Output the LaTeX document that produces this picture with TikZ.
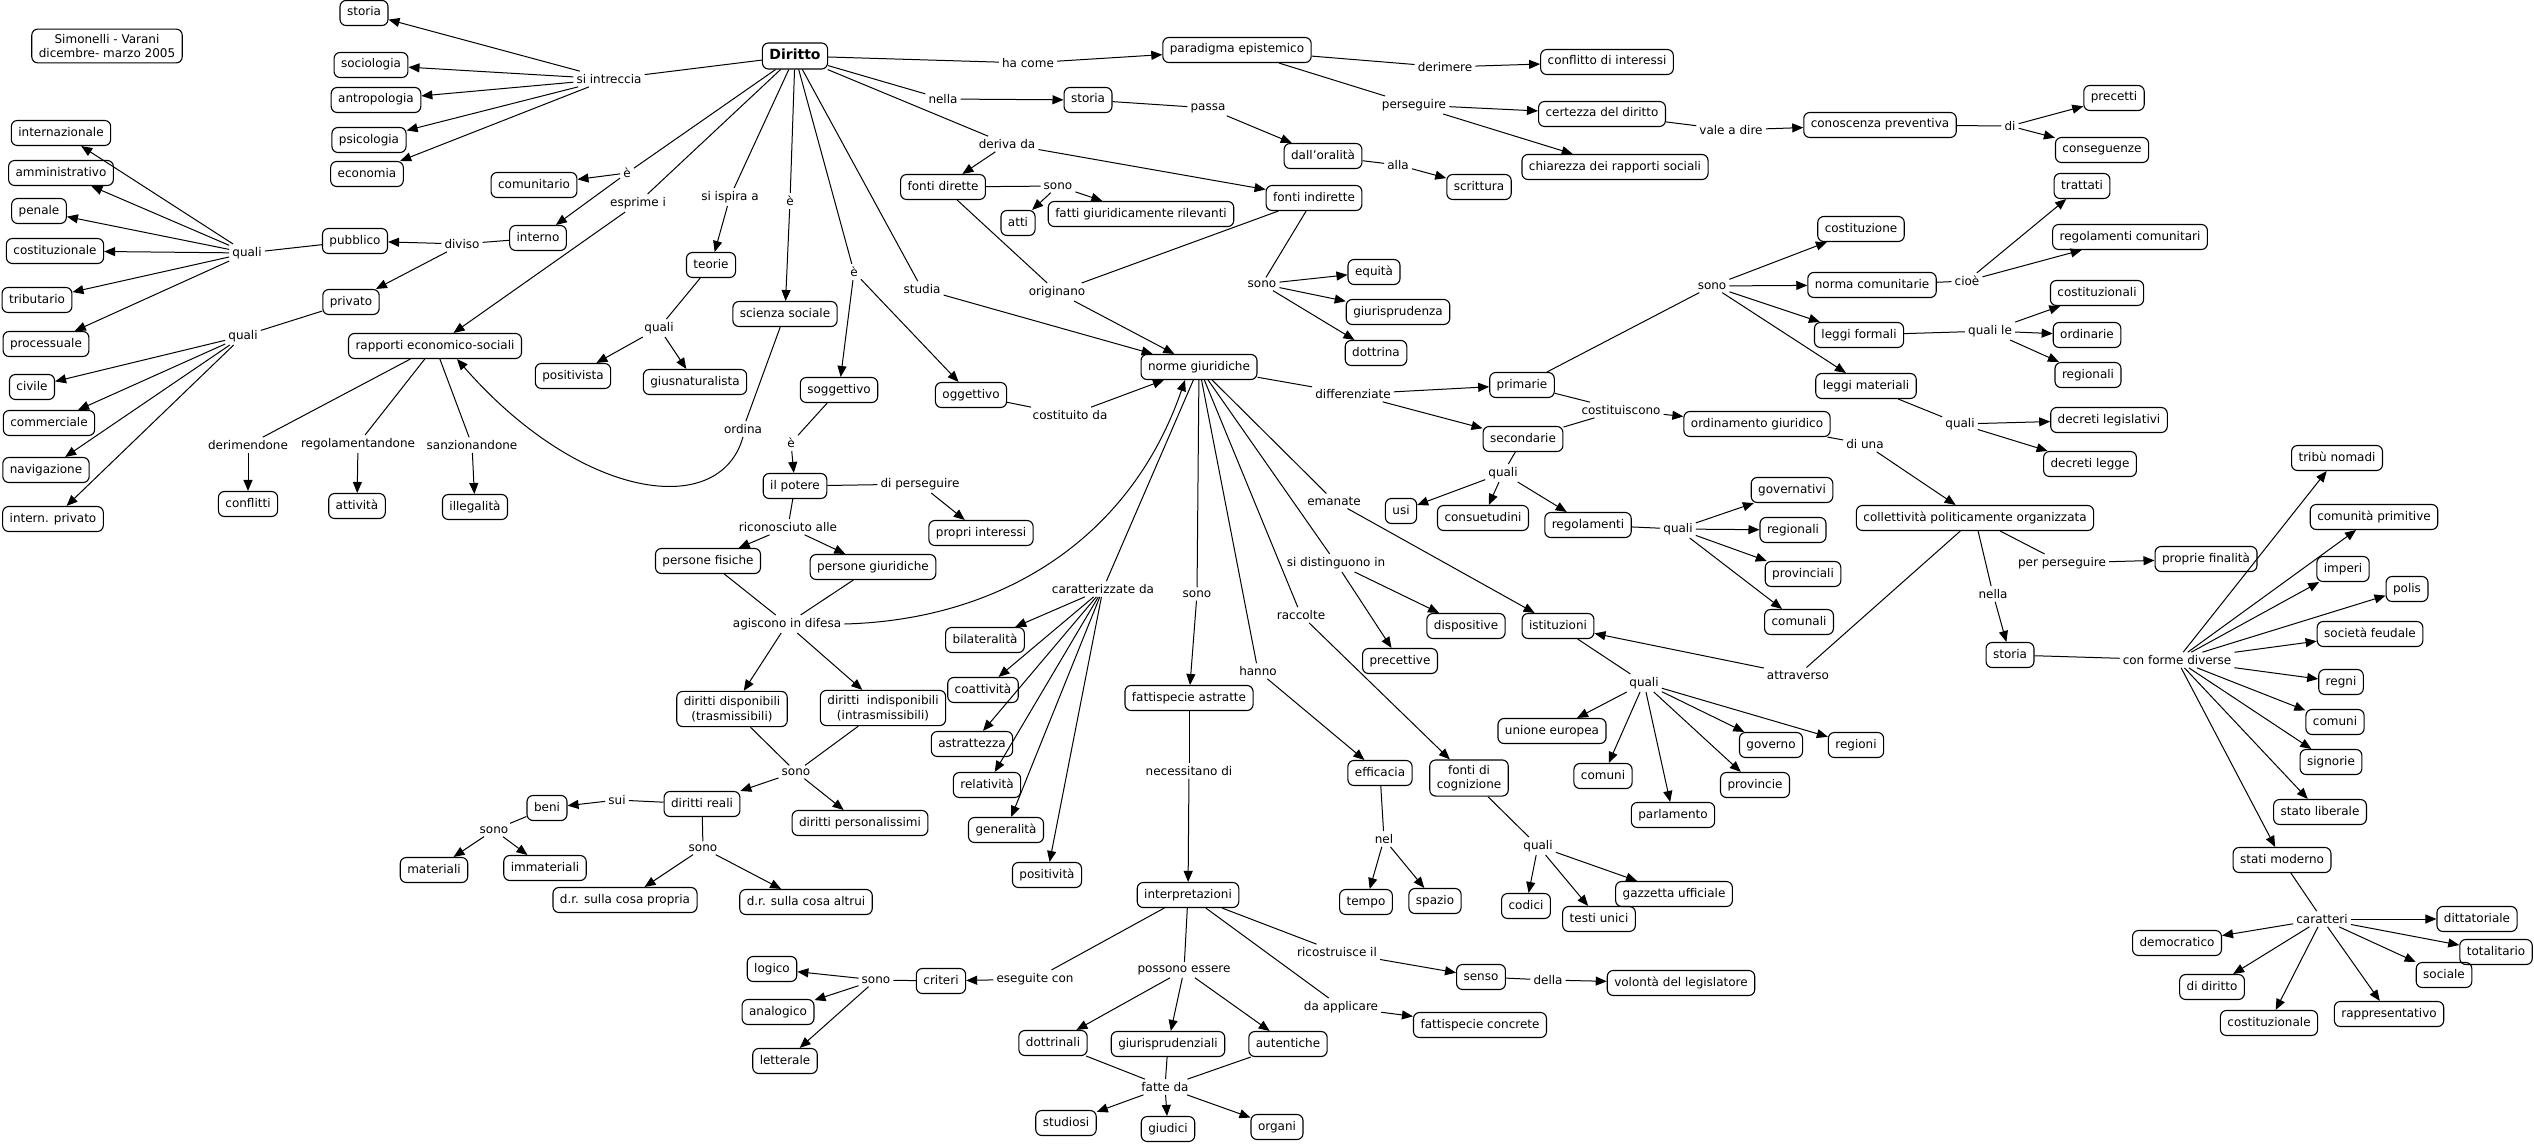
\documentclass[tikz,border=0pt]{standalone}
\usepackage{fontspec}
\setmainfont{DejaVu Sans}
\usetikzlibrary{arrows.meta}
\newcommand\cmlink[3]{%
  \foreach \cmS in {#1}{\draw[ln] (\cmS) -- (#2);}%
  \foreach \cmT in {#3}{\draw[ar] (#2) -- (\cmT);}%
}
\begin{document}
\begin{tikzpicture}[x=1pt,y=-1pt,
  cpt/.style={draw, rounded corners=6pt, line width=1.1pt, inner xsep=7pt, inner ysep=0pt,
    font=\fontsize{12}{14.5}\selectfont, text height=9pt, text depth=3pt, minimum height=25pt},
  cpttwo/.style={draw, rounded corners=6pt, line width=1.1pt, inner xsep=7pt, inner ysep=5pt,
    font=\fontsize{12}{14.5}\selectfont, align=center},
  lp/.style={inner sep=3pt, font=\fontsize{12}{14.5}\selectfont},
  ln/.style={line width=1pt},
  ar/.style={line width=1pt, -{Triangle[length=11pt,width=9pt]}}
]
\useasboundingbox (0,0) rectangle (2534,1145);
\fill[white] (0,0) rectangle (2534,1145);

% ---------- concepts ----------
\node[cpttwo] (title) at (107,46) {Simonelli - Varani\\dicembre- marzo 2005};
\node[cpt] (storiaA) at (364,13) {storia};
\node[cpt] (sociologia) at (371,65) {sociologia};
\node[cpt] (antropologia) at (376,100) {antropologia};
\node[cpt] (psicologia) at (369,140) {psicologia};
\node[cpt] (economia) at (367,174) {economia};
\node[cpt] (internazionale) at (61,133) {internazionale};
\node[cpt] (amministrativo) at (61,173) {amministrativo};
\node[cpt] (penale) at (39,211) {penale};
\node[cpt] (costituzionaleA) at (55,251) {costituzionale};
\node[cpt] (tributario) at (37,300) {tributario};
\node[cpt] (processuale) at (46,344) {processuale};
\node[cpt] (pubblico) at (355,241) {pubblico};
\node[cpt] (interno) at (538,238) {interno};
\node[cpt] (comunitario) at (534,185) {comunitario};
\node[cpt] (privato) at (351,302) {privato};
\node[cpt] (rapporti) at (435,346) {rapporti economico-sociali};
\node[cpt] (positivista) at (573,376) {positivista};
\node[cpt] (civile) at (32,387) {civile};
\node[cpt] (commerciale) at (49,423) {commerciale};
\node[cpt] (navigazione) at (46,470) {navigazione};
\node[cpt] (internpriv) at (53,519) {intern. privato};
\node[cpt] (conflitti) at (248,504) {conflitti};
\node[cpt] (attivita) at (357,506) {attività};
\node[cpt] (illegalita) at (475,507) {illegalità};
\node[cpt, font=\fontsize{14}{16}\selectfont\bfseries, text height=10pt, text depth=3pt, minimum height=26pt] (diritto) at (795,56) {Diritto};
\node[cpt] (paradigma) at (1237,50) {paradigma epistemico};
\node[cpt] (storiaB) at (1088,100) {storia};
\node[cpt] (fontidir) at (943,187) {fonti dirette};
\node[cpt] (atti) at (1018,223) {atti};
\node[cpt] (fatti) at (1141,214) {fatti giuridicamente rilevanti};
\node[cpt] (fontiind) at (1314,198) {fonti indirette};
\node[cpt] (norme) at (1199,367) {norme giuridiche};
\node[cpt] (teorie) at (711,265) {teorie};
\node[cpt] (scienza) at (785,314) {scienza sociale};
\node[cpt] (giusnat) at (695,382) {giusnaturalista};
\node[cpt] (soggettivo) at (839,390) {soggettivo};
\node[cpt] (oggettivo) at (971,395) {oggettivo};
\node[cpt] (conflitto) at (1607,62) {conflitto di interessi};
\node[cpt] (certezza) at (1602,114) {certezza del diritto};
\node[cpt] (chiarezza) at (1615,167) {chiarezza dei rapporti sociali};
\node[cpt] (conoscenza) at (1880,125) {conoscenza preventiva};
\node[cpt] (oralita) at (1323,156) {dall'oralità};
\node[cpt] (scrittura) at (1479,187) {scrittura};
\node[cpt] (equita) at (1374,272) {equità};
\node[cpt] (giurisprudenza) at (1398,312) {giurisprudenza};
\node[cpt] (dottrina) at (1376,353) {dottrina};
\node[cpt] (costituzione) at (1861,229) {costituzione};
\node[cpt] (normacom) at (1872,285) {norma comunitarie};
\node[cpt] (leggiform) at (1859,335) {leggi formali};
\node[cpt] (leggimat) at (1866,386) {leggi materiali};
\node[cpt] (primarie) at (1522,385) {primarie};
\node[cpt] (precetti) at (2114,98) {precetti};
\node[cpt] (conseguenze) at (2102,150) {conseguenze};
\node[cpt] (trattati) at (2082,186) {trattati};
\node[cpt] (regcom) at (2130,237) {regolamenti comunitari};
\node[cpt] (costituzionali) at (2097,293) {costituzionali};
\node[cpt] (ordinarie) at (2087,335) {ordinarie};
\node[cpt] (regionaliL) at (2088,375) {regionali};
\node[cpt] (secondarie) at (1523,439) {secondarie};
\node[cpt] (ordinamento) at (1757,424) {ordinamento giuridico};
\node[cpt] (usi) at (1401,511) {usi};
\node[cpt] (consuetudini) at (1483,518) {consuetudini};
\node[cpt] (regolamenti) at (1588,525) {regolamenti};
\node[cpt] (governativi) at (1792,490) {governativi};
\node[cpt] (regionaliR) at (1793,530) {regionali};
\node[cpt] (provinciali) at (1803,574) {provinciali};
\node[cpt] (comunali) at (1799,622) {comunali};
\node[cpt] (dispositive) at (1466,626) {dispositive};
\node[cpt] (precettive) at (1400,661) {precettive};
\node[cpt] (istituzioni) at (1558,626) {istituzioni};
\node[cpt] (collettivita) at (1975,518) {collettività politicamente organizzata};
\node[cpt] (unione) at (1552,731) {unione europea};
\node[cpt] (governo) at (1771,745) {governo};
\node[cpt] (regioni) at (1856,745) {regioni};
\node[cpt] (comuniI) at (1603,776) {comuni};
\node[cpt] (provincie) at (1755,785) {provincie};
\node[cpt] (parlamento) at (1673,815) {parlamento};
\node[cpt] (declegis) at (2109,420) {decreti legislativi};
\node[cpt] (declegge) at (2090,464) {decreti legge};
\node[cpt] (tribu) at (2337,458) {tribù nomadi};
\node[cpt] (comprim) at (2374,517) {comunità primitive};
\node[cpt] (proprie) at (2206,559) {proprie finalità};
\node[cpt] (imperi) at (2343,569) {imperi};
\node[cpt] (polis) at (2407,589) {polis};
\node[cpt] (feudale) at (2370,634) {società feudale};
\node[cpt] (storiaC) at (2010,655) {storia};
\node[cpt] (regni) at (2341,682) {regni};
\node[cpt] (comuniR) at (2335,722) {comuni};
\node[cpt] (signorie) at (2331,762) {signorie};
\node[cpt] (liberale) at (2320,812) {stato liberale};
\node[cpt] (moderno) at (2282,860) {stati moderno};
\node[cpt] (dittatoriale) at (2477,919) {dittatoriale};
\node[cpt] (democratico) at (2177,943) {democratico};
\node[cpt] (totalitario) at (2496,952) {totalitario};
\node[cpt] (sociale) at (2444,975) {sociale};
\node[cpt] (didiritto) at (2212,987) {di diritto};
\node[cpt] (costituzionaleR) at (2269,1023) {costituzionale};
\node[cpt] (rappresentativo) at (2389,1014) {rappresentativo};
\node[cpt] (potere) at (795,486) {il potere};
\node[cpt] (propri) at (981,533) {propri interessi};
\node[cpt] (fisiche) at (708,561) {persone fisiche};
\node[cpt] (giuridiche) at (873,567) {persone giuridiche};
\node[cpt] (bilateralita) at (985,640) {bilateralità};
\node[cpt] (coattivita) at (983,690) {coattività};
\node[cpttwo] (disponibili) at (732,709) {diritti disponibili\\(trasmissibili)};
\node[cpttwo] (indisponibili) at (883,708) {diritti \ indisponibili\\(intrasmissibili)};
\node[cpt] (fattispecie) at (1189,698) {fattispecie astratte};
\node[cpt] (astrattezza) at (972,744) {astrattezza};
\node[cpt] (reali) at (702,804) {diritti reali};
\node[cpt] (personalissimi) at (860,823) {diritti personalissimi};
\node[cpt] (propria) at (625,900) {d.r. sulla cosa propria};
\node[cpt] (altrui) at (806,902) {d.r. sulla cosa altrui};
\node[cpt] (relativita) at (987,785) {relatività};
\node[cpt] (generalita) at (1006,830) {generalità};
\node[cpt] (positivita) at (1047,875) {positività};
\node[cpt] (interpretazioni) at (1188,895) {interpretazioni};
\node[cpt] (logico) at (772,969) {logico};
\node[cpt] (analogico) at (778,1012) {analogico};
\node[cpt] (letterale) at (785,1061) {letterale};
\node[cpt] (criteri) at (941,981) {criteri};
\node[cpt] (dottrinali) at (1053,1043) {dottrinali};
\node[cpt] (giurispr) at (1168,1044) {giurisprudenziali};
\node[cpt] (autentiche) at (1288,1044) {autentiche};
\node[cpt] (studiosi) at (1066,1123) {studiosi};
\node[cpt] (giudici) at (1168,1129) {giudici};
\node[cpt] (organi) at (1277,1127) {organi};
\node[cpt] (beni) at (547,808) {beni};
\node[cpt] (materiali) at (434,870) {materiali};
\node[cpt] (immateriali) at (545,868) {immateriali};
\node[cpt] (efficacia) at (1380,773) {efficacia};
\node[cpttwo] (cognizione) at (1469,778) {fonti di\\cognizione};
\node[cpt] (tempo) at (1366,902) {tempo};
\node[cpt] (spazio) at (1435,901) {spazio};
\node[cpt] (codici) at (1526,906) {codici};
\node[cpt] (testi) at (1599,919) {testi unici};
\node[cpt] (gazzetta) at (1674,894) {gazzetta ufficiale};
\node[cpt] (senso) at (1481,977) {senso};
\node[cpt] (volonta) at (1681,983) {volontà del legislatore};
\node[cpt] (concrete) at (1480,1025) {fattispecie concrete};

% ---------- linking phrases ----------
\node[lp] (lIntreccia) at (609,79) {si intreccia};
\node[lp] (lQualiPub) at (247,253) {quali};
\node[lp] (lDiviso) at (462,244) {diviso};
\node[lp] (lE1) at (627,173) {è};
\node[lp] (lEsprime) at (638,203) {esprime i};
\node[lp] (lQualiPriv) at (243,336) {quali};
\node[lp] (lDerim) at (248,445) {derimendone};
\node[lp] (lRegol) at (358,444) {regolamentandone};
\node[lp] (lSanz) at (472,445) {sanzionandone};
\node[lp] (lHaCome) at (1028,63) {ha come};
\node[lp] (lNella1) at (943,99) {nella};
\node[lp] (lPassa) at (1208,108) {passa};
\node[lp] (lDeriva) at (1007,144) {deriva da};
\node[lp] (lSono1) at (1058,186) {sono};
\node[lp] (lOriginano) at (1057,292) {originano};
\node[lp] (lStudia) at (922,289) {studia};
\node[lp] (lE3) at (854,272) {è};
\node[lp] (lE2) at (790,201) {è};
\node[lp] (lIspira) at (730,197) {si ispira a};
\node[lp] (lQualiTeorie) at (659,328) {quali};
\node[lp] (lDerimere) at (1445,67) {derimere};
\node[lp] (lPerseguire) at (1414,105) {perseguire};
\node[lp] (lVale) at (1731,130) {vale a dire};
\node[lp] (lDi) at (2010,126) {di};
\node[lp] (lAlla) at (1398,165) {alla};
\node[lp] (lSono2) at (1262,284) {sono};
\node[lp] (lSono3) at (1712,286) {sono};
\node[lp] (lCioe) at (1967,281) {cioè};
\node[lp] (lQualiLe) at (1990,331) {quali le};
\node[lp] (lDifferenziate) at (1353,394) {differenziate};
\node[lp] (lCostituiscono) at (1621,410) {costituiscono};
\node[lp] (lDiUna) at (1865,444) {di una};
\node[lp] (lQualiSec) at (1503,473) {quali};
\node[lp] (lQualiReg) at (1678,529) {quali};
\node[lp] (lEmanate) at (1334,501) {emanate};
\node[lp] (lDistinguono) at (1336,563) {si distinguono in};
\node[lp] (lRaccolte) at (1301,615) {raccolte};
\node[lp] (lQualiIst) at (1644,683) {quali};
\node[lp] (lAttraverso) at (1798,675) {attraverso};
\node[lp] (lQualiMat) at (1960,424) {quali};
\node[lp] (lPerPers) at (2062,563) {per perseguire};
\node[lp] (lNella2) at (1993,594) {nella};
\node[lp] (lForme) at (2177,660) {con forme diverse};
\node[lp] (lCaratteri) at (2322,919) {caratteri};
\node[lp] (lOrdina) at (743,429) {ordina};
\node[lp] (lE4) at (791,443) {è};
\node[lp] (lDiPers) at (920,484) {di perseguire};
\node[lp] (lCostituito) at (1070,415) {costituito da};
\node[lp] (lRiconosciuto) at (788,527) {riconosciuto alle};
\node[lp] (lAgiscono) at (787,624) {agiscono in difesa};
\node[lp] (lCaratterizzate) at (1103,589) {caratterizzate da};
\node[lp] (lSono4) at (1197,594) {sono};
\node[lp] (lHanno) at (1258,671) {hanno};
\node[lp] (lSonoDir) at (796,772) {sono};
\node[lp] (lSui) at (617,800) {sui};
\node[lp] (lSonoReali) at (703,848) {sono};
\node[lp] (lNecessitano) at (1189,771) {necessitano di};
\node[lp] (lSonoCrit) at (876,980) {sono};
\node[lp] (lEseguite) at (1035,979) {eseguite con};
\node[lp] (lPossono) at (1184,970) {possono essere};
\node[lp] (lFatte) at (1165,1087) {fatte da};
\node[lp] (lSonoBeni) at (494,830) {sono};
\node[lp] (lNel) at (1384,839) {nel};
\node[lp] (lQualiCogn) at (1538,846) {quali};
\node[lp] (lRicostruisce) at (1337,952) {ricostruisce il};
\node[lp] (lDella) at (1548,980) {della};
\node[lp] (lApplicare) at (1341,1007) {da applicare};

% ---------- connections ----------
\cmlink{diritto}{lIntreccia}{storiaA,sociologia,antropologia,psicologia,economia}
\cmlink{diritto}{lHaCome}{paradigma}
\cmlink{diritto}{lNella1}{storiaB}
\cmlink{diritto}{lDeriva}{fontidir,fontiind}
\cmlink{diritto}{lE1}{comunitario,interno}
\cmlink{diritto}{lEsprime}{rapporti}
\cmlink{diritto}{lIspira}{teorie}
\cmlink{diritto}{lE2}{scienza}
\cmlink{diritto}{lE3}{soggettivo,oggettivo}
\cmlink{diritto}{lStudia}{norme}
\cmlink{paradigma}{lDerimere}{conflitto}
\cmlink{paradigma}{lPerseguire}{certezza,chiarezza}
\cmlink{certezza}{lVale}{conoscenza}
\cmlink{conoscenza}{lDi}{precetti,conseguenze}
\cmlink{storiaB}{lPassa}{oralita}
\cmlink{oralita}{lAlla}{scrittura}
\cmlink{fontidir}{lSono1}{atti,fatti}
\cmlink{fontidir,fontiind}{lOriginano}{norme}
\cmlink{fontiind}{lSono2}{equita,giurisprudenza,dottrina}
\cmlink{norme}{lDifferenziate}{primarie,secondarie}
\cmlink{primarie,secondarie}{lCostituiscono}{ordinamento}
\cmlink{primarie}{lSono3}{costituzione,normacom,leggiform,leggimat}
\cmlink{normacom}{lCioe}{trattati,regcom}
\cmlink{leggiform}{lQualiLe}{costituzionali,ordinarie,regionaliL}
\cmlink{leggimat}{lQualiMat}{declegis,declegge}
\cmlink{ordinamento}{lDiUna}{collettivita}
\cmlink{collettivita}{lPerPers}{proprie}
\cmlink{collettivita}{lNella2}{storiaC}
\cmlink{storiaC}{lForme}{tribu,comprim,imperi,polis,feudale,regni,comuniR,signorie,liberale,moderno}
\cmlink{moderno}{lCaratteri}{dittatoriale,democratico,totalitario,sociale,didiritto,costituzionaleR,rappresentativo}
\cmlink{collettivita}{lAttraverso}{istituzioni}
\cmlink{istituzioni}{lQualiIst}{unione,comuniI,parlamento,governo,provincie,regioni}
\cmlink{secondarie}{lQualiSec}{usi,consuetudini,regolamenti}
\cmlink{regolamenti}{lQualiReg}{governativi,regionaliR,provinciali,comunali}
\cmlink{norme}{lEmanate}{istituzioni}
\cmlink{norme}{lDistinguono}{dispositive,precettive}
\cmlink{norme}{lRaccolte}{cognizione}
\cmlink{cognizione}{lQualiCogn}{codici,testi,gazzetta}
\cmlink{norme}{lHanno}{efficacia}
\cmlink{efficacia}{lNel}{tempo,spazio}
\cmlink{norme}{lSono4}{fattispecie}
\cmlink{fattispecie}{lNecessitano}{interpretazioni}
\cmlink{interpretazioni}{lEseguite}{criteri}
\cmlink{criteri}{lSonoCrit}{logico,analogico,letterale}
\cmlink{interpretazioni}{lPossono}{dottrinali,giurispr,autentiche}
\cmlink{dottrinali,giurispr,autentiche}{lFatte}{studiosi,giudici,organi}
\cmlink{interpretazioni}{lRicostruisce}{senso}
\cmlink{senso}{lDella}{volonta}
\cmlink{interpretazioni}{lApplicare}{concrete}
\cmlink{norme}{lCaratterizzate}{bilateralita,coattivita,astrattezza,relativita,generalita,positivita}
\cmlink{oggettivo}{lCostituito}{norme}
\cmlink{soggettivo}{lE4}{potere}
\cmlink{potere}{lDiPers}{propri}
\cmlink{potere}{lRiconosciuto}{fisiche,giuridiche}
\cmlink{fisiche,giuridiche}{lAgiscono}{disponibili,indisponibili}
\draw[ar] (lAgiscono.east) .. controls (1000,620) and (1130,540) .. ([xshift=-14pt]norme.south);
\cmlink{disponibili,indisponibili}{lSonoDir}{reali,personalissimi}
\cmlink{reali}{lSui}{beni}
\cmlink{beni}{lSonoBeni}{materiali,immateriali}
\cmlink{reali}{lSonoReali}{propria,altrui}
\cmlink{teorie}{lQualiTeorie}{positivista,giusnat}
\draw[ln] (scienza) -- (lOrdina);
\draw[ar] (lOrdina.south) .. controls (720,520) and (580,500) .. ([xshift=22pt]rapporti.south);
\cmlink{rapporti}{lDerim}{conflitti}
\cmlink{rapporti}{lRegol}{attivita}
\cmlink{rapporti}{lSanz}{illegalita}
\cmlink{interno}{lDiviso}{pubblico,privato}
\cmlink{pubblico}{lQualiPub}{internazionale,amministrativo,penale,costituzionaleA,tributario,processuale}
\cmlink{privato}{lQualiPriv}{civile,commerciale,navigazione,internpriv}
\end{tikzpicture}
\end{document}
